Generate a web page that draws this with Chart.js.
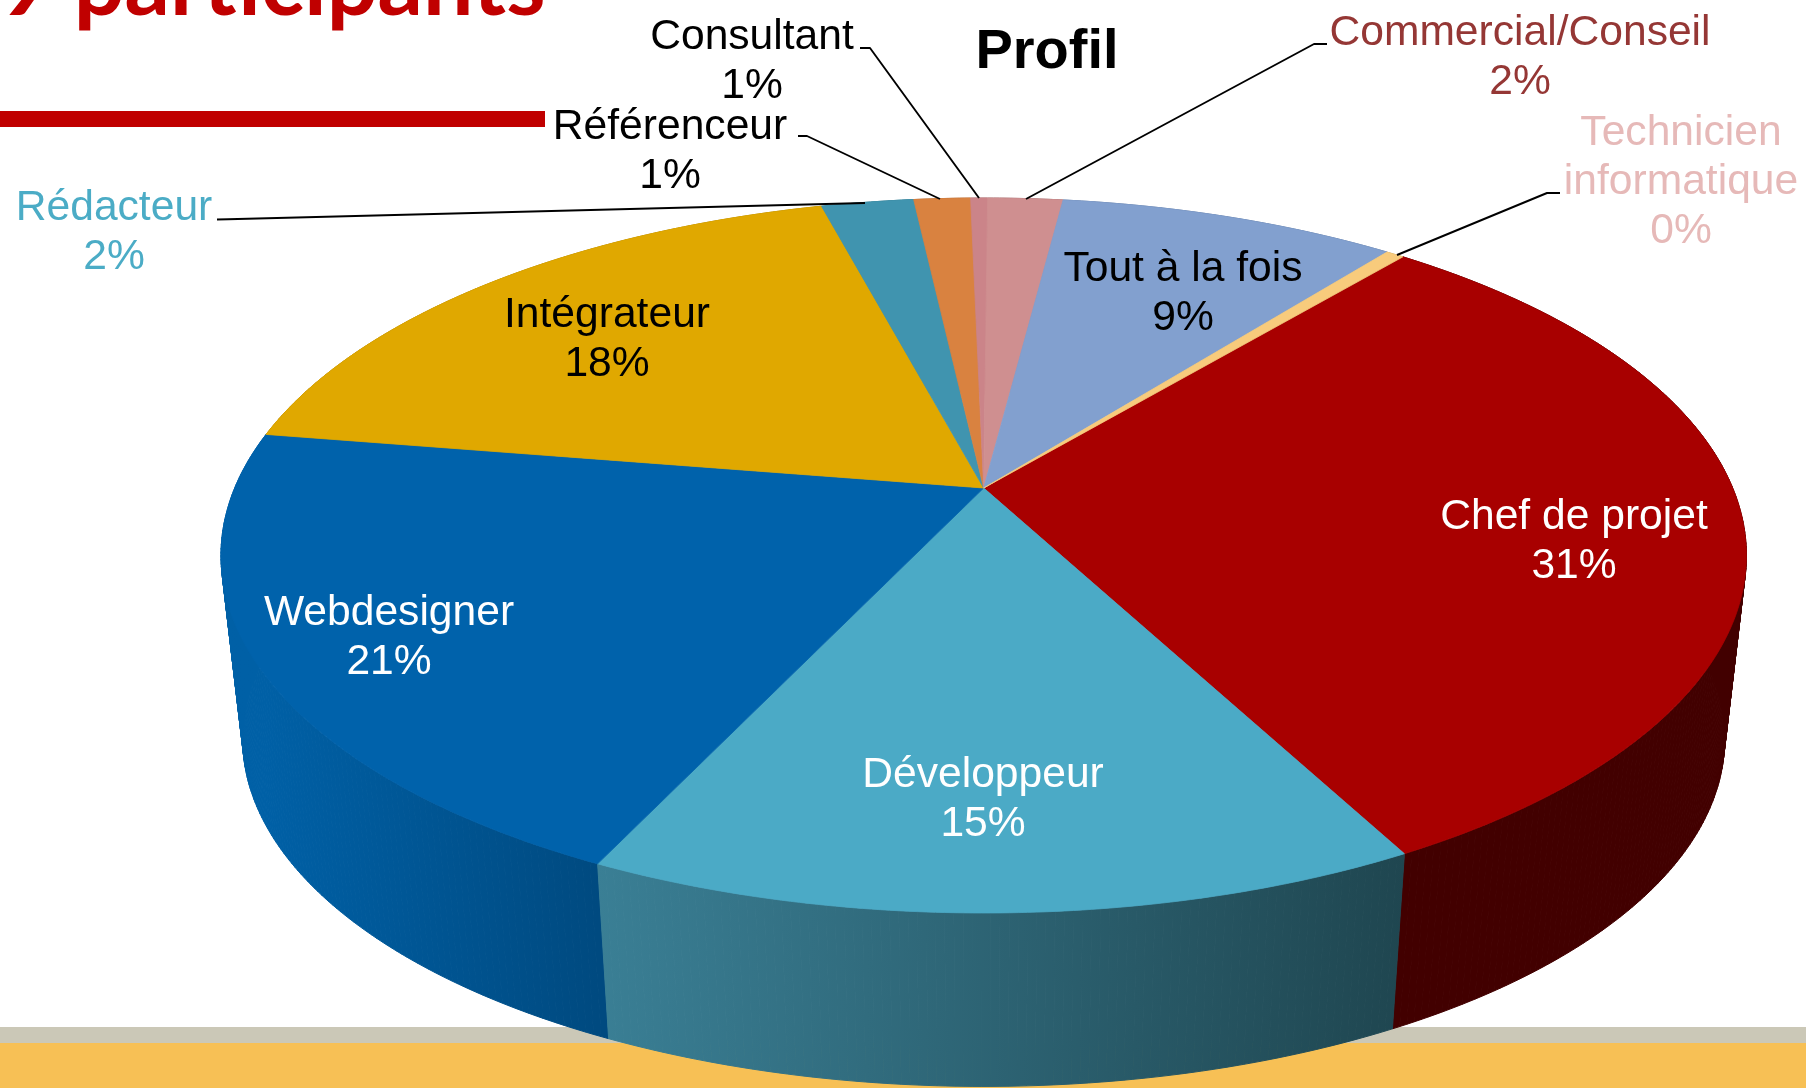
<!DOCTYPE html>
<html lang="fr">
<head>
<meta charset="utf-8">
<title>Profil</title>
<script src="https://cdn.jsdelivr.net/npm/chart.js@4"></script>
<style>
  html,body{margin:0;padding:0;background:#fff;width:1806px;height:1088px;overflow:hidden}
  #stage{position:relative;width:1806px;height:1088px;overflow:hidden}
  #heading{position:absolute;left:0;top:-73px;font:700 89.5px/108px Lato,sans-serif;color:#C00000;white-space:nowrap}
  #rule{position:absolute;left:0;top:111px;width:545px;height:16px;background:#C00000}
  #band1{position:absolute;left:0;top:1027px;width:1806px;height:16px;background:#CBC8B7}
  #band2{position:absolute;left:0;top:1043px;width:1806px;height:45px;background:#F7C055}
  canvas{position:absolute;left:0;top:0}
</style>
</head>
<body>
<div id="stage">
  <div id="heading">9 participants</div>
  <div id="rule"></div>
  <div id="band1"></div>
  <div id="band2"></div>
  <canvas id="c" width="1806" height="1088"></canvas>
</div>
<script>
const chartTitle = "Profil";
const categories = ["Chef de projet","Développeur","Webdesigner","Intégrateur","Rédacteur","Référenceur","Consultant","Commercial/Conseil","Tout à la fois","Technicien informatique"];
const shares = [31.18,14.78,20.53,18.32,2.35,1.44,0.43,1.91,8.60,0.46];
const percentLabels = [31,15,21,18,2,1,1,2,9,0];
const topColors = ["#A80000","#4BAAC6","#0062AB","#E0A800","#4094AF","#D98240","#CB8489","#CF8F90","#82A0CF","#F8CB7C"];
const wallFrom = ["#420000","#3A7F95","#0060A6","#B08400","#2F7488","#A96430","#9C6568","#9C6A6B","#627BA0","#C09C60"];
const wallTo   = ["#420000","#1F4650","#004A80","#B08400","#2F7488","#A96430","#9C6568","#9C6A6B","#627BA0","#C09C60"];
const labelColors = ["#FFFFFF","#FFFFFF","#FFFFFF","#000000","#4BACC6","#000000","#000000","#953735","#000000","#E6B9B8"];

/* Layout of the labels: centre x and first baseline, kept apart from the data. */
const labelAnchors = [[1574,529],[983,787],[389,625],[607,327],[114,220],[670,139],[752,49],[1520,45],[1183,281],[1681,145]];
const leaderLines = {
  4:[[217,219.5],[228,219.3],[865,203]],
  5:[[798,136],[807,136],[940,199]],
  6:[[860,48],[870,48],[979,198]],
  7:[[1327,44],[1314,44],[1026,199]],
  9:[[1560,193],[1547,193],[1397,255]]
};

/* Perspective view of the unit disc that the pie's own angles are laid onto. */
const view = {cx:983.7, a:252.6, b:488, c:-0.1888, d:749, s:0.9715, vanishY:7000};
function project(angle, r, lower){
  const u = r*Math.cos(angle), v = r*Math.sin(angle);
  const den = 1 + view.c*v;
  let x = view.cx + view.d*u/den, y = (view.a*v + view.b)/den;
  if(lower){ x = view.cx + (x-view.cx)*view.s; y = view.vanishY + (y-view.vanishY)*view.s; }
  return [x,y];
}
function rim(ctx, start, end){
  const n = Math.max(2, Math.ceil(Math.abs(end-start)/0.01));
  for(let i=0;i<=n;i++){
    const p = project(start+(end-start)*i/n, 1, false);
    ctx.lineTo(p[0],p[1]);
  }
}
function drawFace(ctx){
  const col = this.options.backgroundColor;
  const o = project(0,0,false);
  ctx.save();
  ctx.beginPath();
  ctx.moveTo(o[0],o[1]);
  rim(ctx,this.startAngle,this.endAngle);
  ctx.closePath();
  ctx.fillStyle = col; ctx.fill();
  ctx.strokeStyle = col; ctx.lineWidth = 0.8; ctx.lineJoin = 'round'; ctx.stroke();
  ctx.restore();
}
const perspectivePie = {
  id:'perspectivePie',
  afterDatasetUpdate(chart,args){
    chart.getDatasetMeta(args.index).data.forEach(el=>{ el.draw = drawFace; });
  },
  beforeDatasetsDraw(chart){
    const ctx = chart.ctx, els = chart.getDatasetMeta(0).data;
    const order = els.map((el,i)=>i).sort((p,q)=>
      Math.sin((els[p].startAngle+els[p].endAngle)/2)-Math.sin((els[q].startAngle+els[q].endAngle)/2));
    order.forEach(i=>{
      const el = els[i];
      const pa = project(el.startAngle,1,false), pb = project(el.endAngle,1,false);
      const g = ctx.createLinearGradient(Math.min(pa[0],pb[0]),0,Math.max(pa[0],pb[0]),0);
      g.addColorStop(0,wallFrom[i]); g.addColorStop(1,wallTo[i]);
      ctx.save();
      ctx.fillStyle = g; ctx.strokeStyle = g; ctx.lineWidth = 1;
      /* The wall folds at the silhouette, so each short strip is filled on its own. */
      const n = Math.max(1, Math.ceil((el.endAngle-el.startAngle)/0.01));
      for(let k=0;k<n;k++){
        const t0 = el.startAngle+(el.endAngle-el.startAngle)*k/n;
        const t1 = el.startAngle+(el.endAngle-el.startAngle)*(k+1)/n;
        const a = project(t0,1,false), b = project(t1,1,false), c = project(t1,1,true), d = project(t0,1,true);
        ctx.beginPath();
        ctx.moveTo(a[0],a[1]); ctx.lineTo(b[0],b[1]); ctx.lineTo(c[0],c[1]); ctx.lineTo(d[0],d[1]);
        ctx.closePath();
        ctx.fill(); ctx.stroke();
      }
      ctx.restore();
    });
  },
  afterDatasetsDraw(chart){
    const ctx = chart.ctx;
    ctx.save();
    ctx.strokeStyle = '#000'; ctx.lineWidth = 1.9; ctx.lineJoin='round';
    Object.values(leaderLines).forEach(pts=>{
      ctx.beginPath();
      pts.forEach((p,j)=> j? ctx.lineTo(p[0],p[1]) : ctx.moveTo(p[0],p[1]));
      ctx.stroke();
    });
    ctx.textAlign = 'center'; ctx.textBaseline = 'alphabetic';
    ctx.font = '700 56px "Liberation Sans"';
    ctx.fillStyle = '#000';
    ctx.fillText(chartTitle,1047,68);
    ctx.font = '42.6px "Liberation Sans"';
    categories.forEach((name,i)=>{
      const lines = ctx.measureText(name).width>300 && name.includes(' ') ? name.split(' ') : [name];
      lines.push(percentLabels[i]+'%');
      ctx.fillStyle = labelColors[i];
      lines.forEach((t,j)=>ctx.fillText(t,labelAnchors[i][0],labelAnchors[i][1]+j*49.2));
    });
    ctx.restore();
  }
};
new Chart(document.getElementById('c'),{
  type:'pie',
  data:{labels:categories,datasets:[{data:shares,backgroundColor:topColors,borderWidth:0}]},
  options:{
    responsive:false,animation:false,rotation:39.85,
    plugins:{legend:{display:false},tooltip:{enabled:false},title:{display:false}}
  },
  plugins:[perspectivePie]
});
</script>
</body>
</html>
